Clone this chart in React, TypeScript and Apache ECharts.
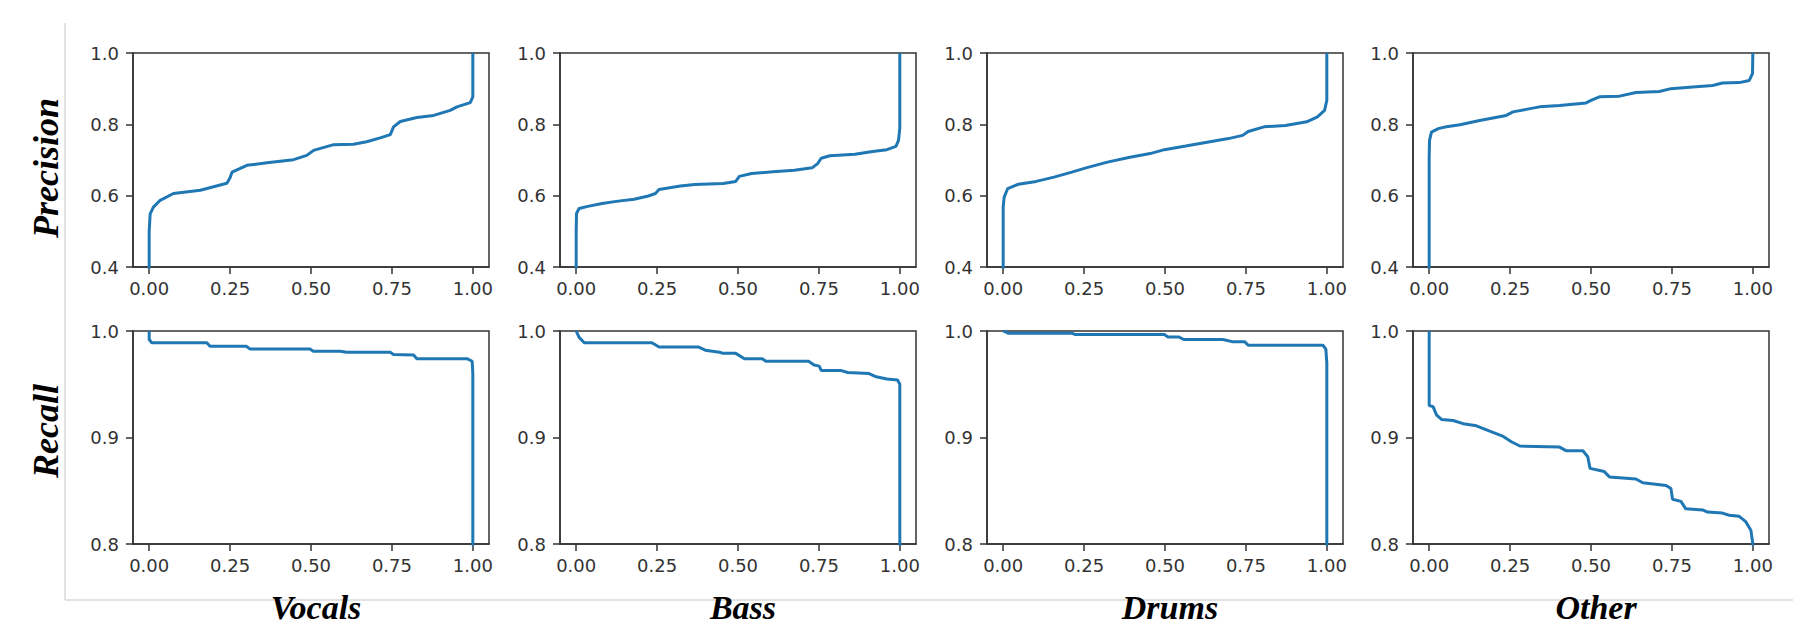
import React, { useEffect, useRef } from "react";
import * as echarts from "echarts";

const instruments = ["Vocals", "Bass", "Drums", "Other"];
const rowLabels = ["Precision", "Recall"];
const xTickValues = [0, 0.25, 0.5, 0.75, 1];
const precisionRange = [0.4, 1.0];
const recallRange = [0.8, 1.0];

const vocalsPrecision = [[0,0.3],[0,0.5],[0.003,0.549],[0.013,0.568],[0.034,0.587],[0.075,0.606],[0.158,0.615],[0.24,0.635],[0.25,0.65],[0.256,0.666],[0.302,0.685],[0.364,0.692],[0.446,0.701],[0.487,0.713],[0.508,0.727],[0.57,0.743],[0.631,0.744],[0.672,0.751],[0.714,0.762],[0.745,0.771],[0.755,0.793],[0.776,0.808],[0.827,0.819],[0.879,0.825],[0.93,0.839],[0.951,0.849],[0.992,0.861],[1,0.877],[1,1]];
const bassPrecision = [[0,0.3],[0,0.5],[0.001,0.55],[0.009,0.564],[0.036,0.57],[0.08,0.578],[0.124,0.584],[0.179,0.59],[0.223,0.599],[0.245,0.606],[0.256,0.617],[0.322,0.627],[0.366,0.631],[0.454,0.634],[0.493,0.64],[0.504,0.654],[0.542,0.662],[0.608,0.667],[0.674,0.671],[0.729,0.678],[0.746,0.69],[0.757,0.705],[0.784,0.712],[0.861,0.716],[0.916,0.724],[0.96,0.729],[0.988,0.738],[0.996,0.755],[1,0.79],[1,1]];
const drumsPrecision = [[0,0.3],[0,0.568],[0.003,0.596],[0.014,0.62],[0.047,0.632],[0.102,0.64],[0.157,0.652],[0.212,0.666],[0.256,0.678],[0.322,0.694],[0.388,0.707],[0.454,0.718],[0.498,0.729],[0.564,0.739],[0.63,0.75],[0.696,0.76],[0.74,0.769],[0.757,0.78],[0.806,0.793],[0.872,0.797],[0.938,0.807],[0.971,0.821],[0.993,0.839],[1,0.867],[1,1]];
const otherPrecision = [[0,0.3],[0,0.708],[0.001,0.755],[0.007,0.778],[0.028,0.788],[0.053,0.793],[0.095,0.799],[0.156,0.811],[0.238,0.825],[0.259,0.835],[0.3,0.842],[0.341,0.849],[0.403,0.853],[0.485,0.86],[0.5,0.867],[0.526,0.877],[0.588,0.879],[0.639,0.889],[0.711,0.892],[0.747,0.9],[0.814,0.905],[0.876,0.909],[0.906,0.916],[0.958,0.917],[0.989,0.923],[0.999,0.942],[1,1]];

const vocalsRecall = [[0,1.0],[0,0.992],[0.008,0.989],[0.178,0.989],[0.188,0.9856],[0.3,0.9856],[0.312,0.983],[0.497,0.983],[0.507,0.981],[0.59,0.981],[0.61,0.98],[0.745,0.98],[0.755,0.978],[0.817,0.9775],[0.827,0.974],[0.982,0.974],[0.998,0.9716],[1,0.96],[1,0.7]];
const bassRecall = [[0,1.0],[0.009,0.994],[0.025,0.989],[0.234,0.989],[0.256,0.985],[0.377,0.985],[0.399,0.982],[0.443,0.98],[0.454,0.979],[0.493,0.979],[0.52,0.974],[0.575,0.974],[0.586,0.9716],[0.718,0.9716],[0.735,0.968],[0.751,0.967],[0.757,0.963],[0.817,0.963],[0.839,0.961],[0.905,0.96],[0.927,0.957],[0.96,0.955],[0.993,0.954],[1,0.95],[1,0.7]];
const drumsRecall = [[0,1.0],[0.015,0.998],[0.212,0.998],[0.223,0.9966],[0.498,0.9966],[0.509,0.9944],[0.542,0.9944],[0.558,0.992],[0.679,0.992],[0.707,0.99],[0.746,0.99],[0.757,0.9866],[0.988,0.9866],[0.997,0.983],[1,0.97],[1,0.7]];
const otherRecall = [[0,1.0],[0,0.93],[0.012,0.929],[0.023,0.921],[0.038,0.917],[0.074,0.916],[0.105,0.913],[0.146,0.911],[0.187,0.906],[0.229,0.901],[0.254,0.896],[0.28,0.892],[0.403,0.891],[0.424,0.8875],[0.475,0.8875],[0.49,0.882],[0.497,0.871],[0.541,0.868],[0.557,0.863],[0.639,0.861],[0.66,0.8575],[0.732,0.855],[0.747,0.852],[0.752,0.842],[0.778,0.84],[0.793,0.833],[0.845,0.832],[0.86,0.83],[0.906,0.829],[0.927,0.827],[0.958,0.826],[0.978,0.821],[0.994,0.813],[1,0.8],[1,0.7]];

const precisionSeries = [vocalsPrecision, bassPrecision, drumsPrecision, otherPrecision];
const recallSeries = [vocalsRecall, bassRecall, drumsRecall, otherRecall];

const COL_LEFT = [133, 560, 987, 1413];
const COL_W = 356;
const ROW_TOP = [53, 331];
const ROW_H = [214, 213];

const AXIS_COLOR = "#333";
const LINE_COLOR = "#1f77b4";
const TICK_FONT = "DejaVu Sans";
const TITLE_FONT = "Liberation Serif";

export default function App() {
  const ref = useRef<HTMLDivElement>(null);
  useEffect(() => {
    if (!ref.current) return;
    const chart = echarts.init(ref.current, undefined, { renderer: "svg" });
    const grids: any[] = [];
    const xAxes: any[] = [];
    const yAxes: any[] = [];
    const series: any[] = [];
    let idx = 0;
    for (let r = 0; r < 2; r++) {
      const range = r === 0 ? precisionRange : recallRange;
      const interval = r === 0 ? 0.2 : 0.1;
      const dataRow = r === 0 ? precisionSeries : recallSeries;
      for (let c = 0; c < 4; c++) {
        grids.push({
          left: COL_LEFT[c],
          top: ROW_TOP[r],
          width: COL_W,
          height: ROW_H[r],
          show: true,
          borderColor: AXIS_COLOR,
          borderWidth: 1.5,
          backgroundColor: "transparent",
        });
        xAxes.push({
          type: "value",
          gridIndex: idx,
          min: -0.05,
          max: 1.05,
          axisLine: { show: true, onZero: false, lineStyle: { color: AXIS_COLOR, width: 1.5 } },
          axisTick: { show: true, inside: false, length: 7, customValues: xTickValues, lineStyle: { color: AXIS_COLOR, width: 1.5 } },
          axisLabel: {
            show: true,
            customValues: xTickValues,
            formatter: (v: number) => v.toFixed(2),
            fontFamily: TICK_FONT,
            fontSize: 18,
            color: AXIS_COLOR,
            margin: 12,
          },
          splitLine: { show: false },
        });
        yAxes.push({
          type: "value",
          gridIndex: idx,
          min: range[0],
          max: range[1],
          interval,
          axisLine: { show: true, onZero: false, lineStyle: { color: AXIS_COLOR, width: 1.5 } },
          axisTick: { show: true, inside: false, length: 7, lineStyle: { color: AXIS_COLOR, width: 1.5 } },
          axisLabel: {
            show: true,
            formatter: (v: number) => v.toFixed(1),
            fontFamily: TICK_FONT,
            fontSize: 18,
            color: AXIS_COLOR,
            margin: 14,
          },
          splitLine: { show: false },
        });
        series.push({
          type: "line",
          xAxisIndex: idx,
          yAxisIndex: idx,
          data: dataRow[c],
          showSymbol: false,
          symbol: "none",
          clip: true,
          lineStyle: { color: LINE_COLOR, width: 3 },
          silent: true,
        });
        idx++;
      }
    }

    const graphics: any[] = [
      { type: "line", shape: { x1: 65, y1: 23, x2: 65, y2: 600 }, style: { stroke: "#d8d8d8", lineWidth: 1.5 }, silent: true },
      { type: "line", shape: { x1: 65, y1: 600, x2: 1793, y2: 600 }, style: { stroke: "#d8d8d8", lineWidth: 1.5 }, silent: true },
    ];
    const rowCenters = [168, 431];
    rowLabels.forEach((t, i) => {
      graphics.push({
        type: "text",
        x: 46,
        y: rowCenters[i],
        rotation: Math.PI / 2,
        style: {
          text: t,
          fontFamily: TITLE_FONT,
          fontStyle: "italic",
          fontWeight: "bold",
          fontSize: 36,
          fill: "#000",
          align: "center",
          verticalAlign: "middle",
        },
      });
    });
    instruments.forEach((t, i) => {
      graphics.push({
        type: "text",
        x: COL_LEFT[i] + COL_W / 2 + 5,
        y: 607,
        style: {
          text: t,
          fontFamily: TITLE_FONT,
          fontStyle: "italic",
          fontWeight: "bold",
          fontSize: 34,
          fill: "#000",
          align: "center",
          verticalAlign: "middle",
        },
      });
    });

    chart.setOption({
      animation: false,
      backgroundColor: "#fff",
      grid: grids,
      xAxis: xAxes,
      yAxis: yAxes,
      series,
      graphic: graphics,
    });
    return () => chart.dispose();
  }, []);
  return (
    <div
      ref={ref}
      style={{ position: "fixed", left: 0, top: 0, width: 1816, height: 625 }}
    />
  );
}
